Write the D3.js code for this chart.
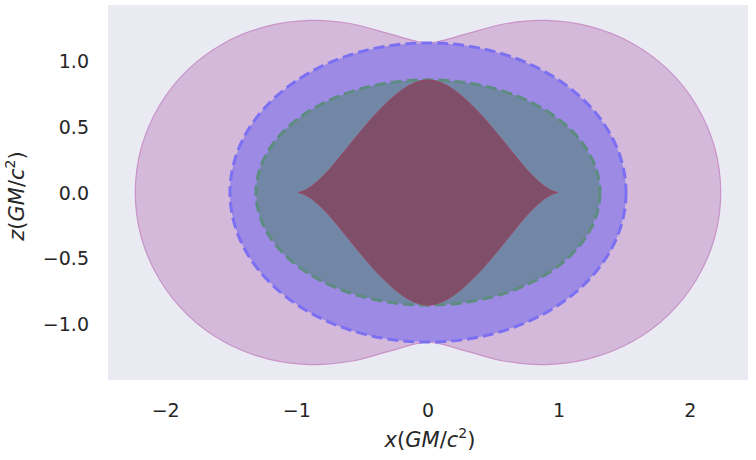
<!DOCTYPE html>
<html>
<head>
<meta charset="utf-8">
<script src="https://d3js.org/d3.v7.min.js"></script>
<style>
body { margin: 0; background: #fff; }
svg text { font-family: 'DejaVu Sans', sans-serif; fill: #262626; }
</style>
</head>
<body>
<svg id="chart" width="756" height="460"></svg>
<script>
// outer ergosurface, first quadrant (x, z)
var outerErgo = [[0, 1.141], [0.273, 1.204], [0.577, 1.285], [0.905, 1.312], [1.238, 1.265],
  [1.555, 1.139], [1.832, 0.935], [2.047, 0.664], [2.185, 0.345], [2.232, 0]];
// inner ergosurface, first quadrant
var innerErgo = [[0, 0.859], [0.113, 0.831], [0.219, 0.766], [0.315, 0.683], [0.402, 0.595],
  [0.480, 0.506], [0.551, 0.420], [0.616, 0.340], [0.675, 0.267], [0.729, 0.202],
  [0.778, 0.147], [0.824, 0.102], [0.865, 0.066], [0.901, 0.039], [0.932, 0.020],
  [0.957, 0.009], [0.975, 0.003], [0.986, 0.0003], [0.99, 0]];
// horizons: semi-axes [x, z]
var outerHorizon = [1.51, 1.141];
var innerHorizon = [1.311, 0.859];

var xTicks = [-2, -1, 0, 1, 2];
var yTicks = [-1.0, -0.5, 0.0, 0.5, 1.0];

var plotLeft = 108, plotRight = 748, plotTop = 5, plotBottom = 380;

var svg = d3.select("#chart");

var x = d3.scaleLinear().domain([-2.44, 2.44]).range([plotLeft, plotRight]);
var y = d3.scaleLinear().domain([-1.43, 1.43]).range([plotBottom, plotTop]);

// mirror a first quadrant curve into a closed loop
function fullLoop(q) {
  var pts = q.slice();
  // quadrant IV (going down from the x axis)
  for (var i = q.length - 2; i >= 0; i--) pts.push([q[i][0], -q[i][1]]);
  // quadrant III
  for (var i = 1; i < q.length; i++) pts.push([-q[i][0], -q[i][1]]);
  // quadrant II
  for (var i = q.length - 2; i >= 1; i--) pts.push([-q[i][0], q[i][1]]);
  return pts;
}

var line = d3.line()
  .x(function(d){ return x(d[0]); })
  .y(function(d){ return y(d[1]); })
  .curve(d3.curveCatmullRomClosed.alpha(0.5));

svg.append("rect")
  .attr("x", plotLeft).attr("y", plotTop)
  .attr("width", plotRight - plotLeft).attr("height", plotBottom - plotTop)
  .attr("fill", "#eaeaf2");

// outer ergosurface
svg.append("path")
  .attr("d", line(fullLoop(outerErgo)))
  .attr("fill", "#d5b9da")
  .attr("stroke", "#c793c8")
  .attr("stroke-width", 1.2);

// outer horizon
svg.append("ellipse")
  .attr("cx", x(0)).attr("cy", y(0))
  .attr("rx", x(outerHorizon[0]) - x(0))
  .attr("ry", y(0) - y(outerHorizon[1]))
  .attr("fill", "#9c8ae5")
  .attr("stroke", "#7c70f2")
  .attr("stroke-width", 3)
  .attr("stroke-dasharray", "11,5");

// inner horizon
svg.append("ellipse")
  .attr("cx", x(0)).attr("cy", y(0))
  .attr("rx", x(innerHorizon[0]) - x(0))
  .attr("ry", y(0) - y(innerHorizon[1]))
  .attr("fill", "#7286a6")
  .attr("stroke", "#5e8c80")
  .attr("stroke-width", 3)
  .attr("stroke-dasharray", "11,5");

// inner ergosurface
svg.append("path")
  .attr("d", line(fullLoop(innerErgo)))
  .attr("fill", "#7f4f6a")
  .attr("stroke", "#9a4560")
  .attr("stroke-width", 1);

// tick labels
svg.selectAll(".xt").data(xTicks).enter().append("text")
  .attr("class", "xt")
  .attr("x", function(d){ return x(d); })
  .attr("y", 417)
  .attr("text-anchor", "middle")
  .attr("font-size", 19)
  .text(function(d){ return d < 0 ? "\u2212" + Math.abs(d) : d; });

svg.selectAll(".yt").data(yTicks).enter().append("text")
  .attr("class", "yt")
  .attr("x", 89)
  .attr("y", function(d){ return y(d) + 7; })
  .attr("text-anchor", "end")
  .attr("font-size", 19)
  .text(function(d){ return (d < 0 ? "\u2212" : "") + Math.abs(d).toFixed(1); });

// axis labels
function mathLabel(t) {
  t.append("tspan").attr("font-style", "italic").text(t.datum()[0]);
  t.append("tspan").text("(");
  t.append("tspan").attr("font-style", "italic").text("GM");
  t.append("tspan").text("/");
  t.append("tspan").attr("font-style", "italic").text("c");
  t.append("tspan").attr("font-size", 14).attr("dy", -9).text("2");
  t.append("tspan").attr("dy", 9).text(")");
}

svg.append("text").datum(["x"])
  .attr("x", 430).attr("y", 447)
  .attr("text-anchor", "middle")
  .attr("font-size", 21)
  .call(mathLabel);

svg.append("text").datum(["z"])
  .attr("transform", "translate(24,196) rotate(-90)")
  .attr("text-anchor", "middle")
  .attr("font-size", 21)
  .call(mathLabel);
</script>
</body>
</html>
